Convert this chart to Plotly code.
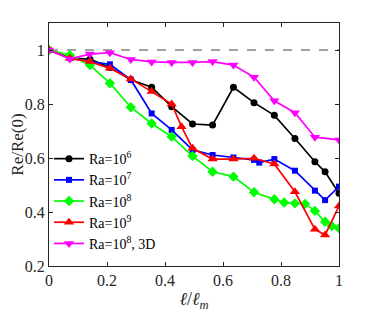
import plotly.graph_objects as go

x_ra6 = [0, 0.072, 0.141, 0.21, 0.282, 0.354, 0.423, 0.495, 0.564, 0.636, 0.707, 0.777, 0.848, 0.917, 0.952, 1.0]
y_ra6 = [1, 0.97, 0.966, 0.935, 0.89, 0.862, 0.79, 0.726, 0.722, 0.862, 0.805, 0.758, 0.672, 0.586, 0.549, 0.469]

x_ra7 = [0, 0.072, 0.141, 0.21, 0.282, 0.354, 0.423, 0.495, 0.564, 0.636, 0.707, 0.725, 0.777, 0.848, 0.917, 0.952, 1.0]
y_ra7 = [1, 0.97, 0.957, 0.947, 0.89, 0.765, 0.704, 0.63, 0.611, 0.602, 0.593, 0.583, 0.596, 0.553, 0.479, 0.444, 0.494]

x_ra8 = [0, 0.072, 0.141, 0.21, 0.282, 0.354, 0.423, 0.495, 0.564, 0.636, 0.707, 0.777, 0.811, 0.848, 0.883, 0.917, 0.952, 0.975, 1.0]
y_ra8 = [1, 0.981, 0.944, 0.877, 0.788, 0.728, 0.679, 0.607, 0.549, 0.531, 0.473, 0.447, 0.435, 0.432, 0.43, 0.404, 0.364, 0.348, 0.34]

x_ra9 = [0, 0.072, 0.141, 0.21, 0.282, 0.354, 0.423, 0.457, 0.495, 0.564, 0.636, 0.707, 0.777, 0.848, 0.917, 0.952, 1.0]
y_ra9 = [1, 0.969, 0.957, 0.932, 0.893, 0.846, 0.8, 0.716, 0.636, 0.596, 0.596, 0.599, 0.578, 0.475, 0.336, 0.315, 0.422]

x_3d = [0, 0.072, 0.141, 0.21, 0.282, 0.354, 0.423, 0.495, 0.564, 0.636, 0.707, 0.777, 0.848, 0.917, 1.0]
y_3d = [1, 0.967, 0.985, 0.99, 0.965, 0.956, 0.954, 0.954, 0.957, 0.944, 0.899, 0.812, 0.768, 0.677, 0.667]

names = ["Ra=10<sup>6</sup>", "Ra=10<sup>7</sup>", "Ra=10<sup>8</sup>", "Ra=10<sup>9</sup>", "Ra=10<sup>8</sup>, 3D"]
colors = ["#000000", "#0000FF", "#00FF00", "#FF0000", "#FF00FF"]
symbols = ["circle", "square", "diamond", "triangle-up", "triangle-down"]
sizes = [7, 6, 8, 9, 9]

xticks = [0, 0.2, 0.4, 0.6, 0.8, 1]
yticks = [0.2, 0.4, 0.6, 0.8, 1]

fig = go.Figure()
fig.add_trace(go.Scatter(x=[0, 1], y=[1, 1], mode="lines",
                         line=dict(color="#444444", width=1.2, dash="dash"),
                         showlegend=False, hoverinfo="skip"))
series = [(x_ra6, y_ra6), (x_ra7, y_ra7), (x_ra8, y_ra8), (x_ra9, y_ra9), (x_3d, y_3d)]
for (xs, ys), n, c, s, sz in zip(series, names, colors, symbols, sizes):
    fig.add_trace(go.Scatter(x=xs, y=ys, mode="lines+markers", name=n,
                             line=dict(color=c, width=1.7),
                             marker=dict(color=c, symbol=s, size=sz, line=dict(width=0))))

axis_common = dict(showline=True, linecolor="#262626", linewidth=1.2, mirror="ticks",
                   ticks="inside", ticklen=4, tickcolor="#262626", showgrid=False,
                   zeroline=False, automargin=False,
                   tickfont=dict(family="Liberation Serif", size=16, color="#262626"))
fig.update_xaxes(range=[0, 1], tickvals=xticks, ticktext=[f"{v:g}" for v in xticks],
                 title=dict(text="<i>ℓ</i>/<i>ℓ<sub>m</sub></i>", font=dict(family="Liberation Serif", size=18, color="#262626"), standoff=4),
                 **axis_common)
fig.update_yaxes(range=[0.2, 1.1], tickvals=yticks, ticktext=[f"{v:g}" for v in yticks],
                 title=dict(text="Re/Re(0)", font=dict(family="Liberation Serif", size=17, color="#262626"), standoff=6),
                 **axis_common)
fig.update_layout(width=366, height=304, margin=dict(l=41, r=35, t=15, b=46),
                  plot_bgcolor="white", paper_bgcolor="white",
                  legend=dict(x=0.0, y=0.506, xanchor="left", yanchor="top",
                              bgcolor="rgba(0,0,0,0)", tracegroupgap=0,
                              font=dict(family="Liberation Serif", size=14, color="#000000"),
                              itemwidth=30))
fig.write_html("out.html")
